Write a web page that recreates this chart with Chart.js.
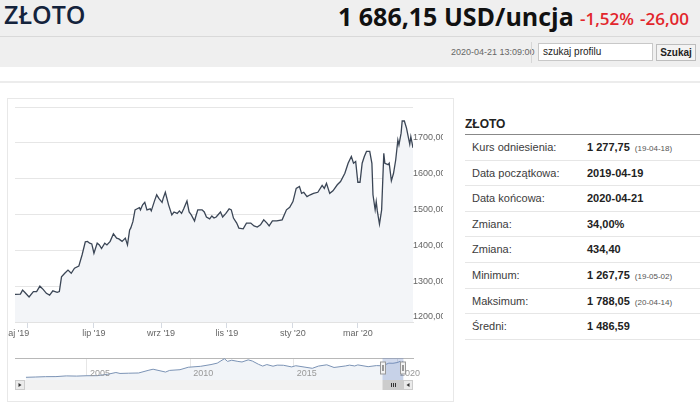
<!DOCTYPE html>
<html>
<head>
<meta charset="utf-8">
<script src="https://cdn.jsdelivr.net/npm/chart.js@4.4.1/dist/chart.umd.min.js"></script>
<style>
  body { margin: 0; width: 700px; height: 403px; overflow: hidden; background: #fff; position: relative; font-family: "Liberation Sans", Arial, sans-serif; }
  .abs { position: absolute; white-space: nowrap; }
  #head { left: 0; top: 0; width: 700px; height: 67px; background: #efefef; }
  #headLine { left: 0; top: 36px; width: 700px; height: 1px; background: #d9d9d9; }
  #band { left: 0; top: 81px; width: 700px; height: 2px; background: #ececec; }
  #title { left: 4px; top: -3px; font: 600 25px "Open Sans", sans-serif; color: #14233c; }
  #price { left: 338px; top: -1px; font: 700 25px "Open Sans", sans-serif; color: #111; }
  .red { font: 600 17px "Open Sans", sans-serif; color: #e2262c; top: 7px; }
  #stamp { left: 451px; top: 46px; font: 9px "Liberation Sans Narrow", "Liberation Sans", sans-serif; color: #666; line-height: 12px; }
  #vsep { left: 531px; top: 42px; width: 1px; height: 21px; background: #d6d6d6; }
  #search { left: 538px; top: 43px; width: 113px; height: 16px; background: #fff; border: 1px solid #c8c8c8; font: 10px "Liberation Sans Narrow", "Liberation Sans", sans-serif; color: #222; line-height: 16px; padding-left: 4px; box-sizing: border-box; width: 115px; height: 18px; }
  #btn { left: 656px; top: 44px; width: 40px; height: 17px; background: #f3f3f3; border: 1px solid #bdbdbd; box-sizing: border-box; font: 700 10px "Liberation Sans Narrow", "Liberation Sans", sans-serif; color: #222; text-align: center; line-height: 15px; }
  #box { left: 7px; top: 98px; width: 445px; height: 302px; border: 1px solid #e8e8e8; overflow: hidden; }
  #mainWrap { left: -20px; top: 0; width: 466px; height: 250px; }
  #navWrap { left: 7px; top: 258px; width: 410px; height: 34px; }
  #tbl { left: 465px; top: 113px; width: 235px; }
  #tblTitle { font: 700 12px "Liberation Sans", Arial, sans-serif; color: #222; height: 21px; line-height: 22px; border-bottom: 1px solid #888; }
  .row { position: relative; height: 24.6px; border-bottom: 1px solid #e6e6e6; font-size: 11px; line-height: 25px; color: #3c3c3c; }
  .row .lab { position: absolute; left: 7px; }
  .row .val { position: absolute; left: 122px; font-weight: 700; color: #222; }
  .row .val small { font-weight: 400; font-size: 8px; color: #555; margin-left: 5px; }
</style>
</head>
<body>
<div id="head" class="abs"></div>
<div id="headLine" class="abs"></div>
<div id="title" class="abs">ZŁOTO</div>
<div id="price" class="abs">1 686,15 USD/uncja</div>
<div class="abs red" style="left:580px">-1,52%</div>
<div class="abs red" style="left:640px">-26,00</div>
<div id="stamp" class="abs">2020-04-21 13:09:00</div>
<div id="vsep" class="abs"></div>
<div id="search" class="abs">szukaj profilu</div>
<div id="btn" class="abs">Szukaj</div>
<div id="band" class="abs"></div>

<div id="box" class="abs">
  <div id="mainWrap" class="abs"><canvas id="mainChart" width="466" height="250"></canvas></div>
  <div id="navWrap" class="abs"><canvas id="navChart" width="410" height="34"></canvas></div>
</div>

<div id="tbl" class="abs">
  <div id="tblTitle">ZŁOTO</div>
  <div id="rows"></div>
</div>

<script>
// main series: day offset from 2019-04-19 and price in USD/oz
const days = [0, 5, 7, 9, 13, 17, 20, 23, 26, 29, 32, 35, 39, 41, 43, 46, 49, 52, 55, 59,
  62, 65, 67, 69, 71, 73, 76, 78, 80, 83, 85, 88, 91, 94, 96, 99, 102, 104, 106, 107,
  109, 111, 113, 115, 116, 118, 120, 122, 125, 126, 129, 131, 133, 136, 137, 139, 142, 145, 147, 150,
  152, 154, 156, 159, 161, 163, 166, 167, 169, 173, 175, 177, 180, 182, 184, 186, 190, 192, 195, 198,
  200, 202, 205, 207, 211, 214, 218, 221, 224, 227, 230, 233, 235, 238, 242, 247, 251, 254, 257, 260,
  263, 265, 267, 270, 273, 276, 280, 284, 286, 288, 291, 294, 298, 301, 305, 308, 311, 313, 315, 317,
  319, 321, 323, 325, 328, 330, 331, 333, 334, 335, 337, 339, 341, 342, 345, 346, 348, 350, 352, 354,
  355, 357, 358, 360, 362, 365, 366, 368];
const prices = [1277, 1278, 1289, 1283, 1270, 1285, 1285, 1300, 1291, 1280, 1275, 1287, 1283, 1285, 1326, 1336, 1345, 1336, 1350, 1356,
  1387, 1424, 1425, 1420, 1418, 1392, 1420, 1415, 1405, 1420, 1415, 1425, 1446, 1434, 1432, 1425, 1434, 1415, 1457, 1462,
  1480, 1513, 1516, 1519, 1513, 1527, 1534, 1513, 1516, 1510, 1538, 1555, 1545, 1534, 1545, 1562, 1527, 1499, 1507, 1503,
  1510, 1503, 1516, 1538, 1507, 1499, 1482, 1493, 1513, 1513, 1507, 1493, 1488, 1496, 1490, 1493, 1507, 1493, 1503, 1516,
  1513, 1490, 1476, 1462, 1460, 1476, 1476, 1468, 1465, 1471, 1485, 1476, 1468, 1482, 1482, 1485, 1513, 1520, 1536, 1573,
  1578, 1559, 1562, 1550, 1555, 1559, 1562, 1581, 1573, 1587, 1559, 1566, 1583, 1592, 1615, 1643, 1662, 1643, 1648, 1590,
  1590, 1643, 1662, 1676, 1676, 1643, 1555, 1513, 1536, 1510, 1473, 1513, 1671, 1643, 1639, 1643, 1594, 1615, 1652, 1708,
  1694, 1727, 1761, 1761, 1741, 1696, 1717, 1686];

const monthTicks = [12, 73, 135, 196, 257, 317];          // 1st of month, day offsets
const labelDays = [0, 73, 135, 196, 257, 317];
const monthLabels = ["maj '19", "lip '19", "wrz '19", "lis '19", "sty '20", "mar '20"];
const priceTicks = [1200, 1300, 1400, 1500, 1600, 1700, 1800];

// navigator series: fractional year and price
const navYears = [2002.05, 2002.5, 2003, 2003.5, 2004, 2004.5, 2005, 2005.5, 2006, 2006.4, 2006.6, 2007, 2007.5, 2008, 2008.2,
  2008.8, 2009, 2009.5, 2009.9, 2010.5, 2011, 2011.3, 2011.65, 2011.8, 2012, 2012.3, 2012.5, 2012.8, 2013, 2013.3,
  2013.5, 2013.7, 2014, 2014.2, 2014.5, 2014.9, 2015.1, 2015.5, 2015.9, 2016.2, 2016.6, 2016.95, 2017.5, 2017.7, 2017.95,
  2018.1, 2018.6, 2019, 2019.3, 2019.6, 2019.8, 2020, 2020.15, 2020.2, 2020.3];
const navPrices = [290, 315, 345, 350, 410, 395, 425, 430, 550, 700, 620, 640, 660, 900, 980,
  740, 880, 940, 1150, 1230, 1380, 1500, 1880, 1650, 1750, 1650, 1600, 1780, 1680, 1400,
  1250, 1380, 1240, 1330, 1320, 1180, 1280, 1170, 1060, 1250, 1360, 1130, 1260, 1330, 1260,
  1350, 1200, 1290, 1275, 1500, 1490, 1550, 1650, 1480, 1690];
const navYearTicks = [2005, 2010, 2015, 2020];
const selRange = [2019.296, 2020.304];

const stats = [
  ['Kurs odniesienia:', '1 277,75', '(19-04-18)'],
  ['Data początkowa:', '2019-04-19', ''],
  ['Data końcowa:', '2020-04-21', ''],
  ['Zmiana:', '34,00%', ''],
  ['Zmiana:', '434,40', ''],
  ['Minimum:', '1 267,75', '(19-05-02)'],
  ['Maksimum:', '1 788,05', '(20-04-14)'],
  ['Średni:', '1 486,59', '']
];

const rowsEl = document.getElementById('rows');
stats.forEach(s => {
  const r = document.createElement('div');
  r.className = 'row';
  r.innerHTML = '<span class="lab">' + s[0] + '</span><span class="val">' + s[1] +
    (s[2] ? '<small>' + s[2] + '</small>' : '') + '</span>';
  rowsEl.appendChild(r);
});

Chart.defaults.font.family = '"Liberation Sans", Arial, sans-serif';
Chart.defaults.font.size = 9;
Chart.defaults.color = '#666';

const mainPoints = days.map((d, i) => ({ x: d, y: prices[i] }));

new Chart(document.getElementById('mainChart'), {
  type: 'line',
  data: {
    datasets: [{
      data: mainPoints,
      borderColor: '#3b4656',
      borderWidth: 1.3,
      pointRadius: 0,
      tension: 0,
      fill: 'start',
      backgroundColor: '#f3f5f8'
    }]
  },
  options: {
    responsive: false,
    animation: false,
    devicePixelRatio: 1,
    layout: { padding: { left: 27, right: 11, top: 8, bottom: 7 } },
    plugins: { legend: { display: false }, tooltip: { enabled: false } },
    scales: {
      x: {
        type: 'linear', min: 0, max: 368, weight: 0,
        afterBuildTicks: a => { a.ticks = monthTicks.map(v => ({ value: v })); },
        afterFit: a => { a.height = 6; },
        ticks: { display: false },
        grid: { drawOnChartArea: false, drawTicks: true, tickLength: 6, tickColor: '#d5dae2' },
        border: { color: '#e2e2e2' }
      },
      x2: {
        type: 'linear', position: 'bottom', min: 0, max: 368, weight: 1,
        afterBuildTicks: a => { a.ticks = labelDays.map(v => ({ value: v })); },
        afterFit: a => { a.height = 14; },
        ticks: {
          autoSkip: false, maxRotation: 0, padding: 0, color: '#666',
          callback: (v, i) => monthLabels[i]
        },
        grid: { display: false, drawTicks: false },
        border: { display: false }
      },
      y: {
        position: 'right', min: 1200, max: 1800,
        afterBuildTicks: a => { a.ticks = priceTicks.map(v => ({ value: v })); },
        afterFit: a => { a.width = 30; },
        ticks: {
          padding: 0, labelOffset: -5, color: '#666',
          callback: v => v === 1800 ? '' : v.toFixed(2).replace('.', ',')
        },
        grid: { color: '#e6e6e6', drawTicks: false },
        border: { display: false }
      }
    }
  }
});

// navigator extras: year labels, selected range and scrollbar
const navigatorExtras = {
  id: 'navigatorExtras',
  afterDatasetsDraw(chart) {
    const { ctx, chartArea: a, scales: { x } } = chart;
    ctx.save();
    ctx.font = '9px "Liberation Sans", Arial, sans-serif';
    ctx.fillStyle = '#999';
    ctx.textBaseline = 'middle';
    x.ticks.forEach(t => ctx.fillText(String(t.value), x.getPixelForValue(t.value) + 3, a.bottom - 6));

    const s0 = x.getPixelForValue(selRange[0]);
    const s1 = x.getPixelForValue(selRange[1]);
    ctx.fillStyle = 'rgba(102,133,194,0.3)';
    ctx.fillRect(s0, a.top, s1 - s0, a.bottom - a.top);

    // scrollbar
    const sy = a.bottom, sh = 10;
    ctx.fillStyle = '#f2f2f2';
    ctx.fillRect(a.left, sy, a.right - a.left, sh);
    ctx.fillStyle = '#cccccc';
    ctx.fillRect(s0, sy, s1 - s0, sh);
    ctx.strokeStyle = '#333';
    ctx.lineWidth = 1;
    const mid = Math.round((s0 + s1) / 2);
    for (let k = -2; k <= 2; k += 2) {
      ctx.beginPath();
      ctx.moveTo(mid + k + 0.5, sy + 3);
      ctx.lineTo(mid + k + 0.5, sy + 7);
      ctx.stroke();
    }
    [[a.left, -1], [a.right - 10, 1]].forEach(([bx, dir]) => {
      ctx.fillStyle = '#ebebeb';
      ctx.fillRect(bx, sy, 10, sh);
      ctx.strokeStyle = '#cccccc';
      ctx.strokeRect(bx + 0.5, sy + 0.5, 9, sh - 1);
      ctx.fillStyle = '#333';
      ctx.beginPath();
      const cx = bx + 5, cy = sy + 5;
      ctx.moveTo(cx - dir * 1.5, cy);
      ctx.lineTo(cx + dir * 1.5, cy - 2);
      ctx.lineTo(cx + dir * 1.5, cy + 2);
      ctx.closePath();
      ctx.fill();
    });

    // handles
    [s0, s1].forEach(hx => {
      const hxr = Math.round(hx) - 2.5;
      ctx.fillStyle = '#f2f2f2';
      ctx.fillRect(hxr, a.top + 4, 5, 12);
      ctx.strokeStyle = '#999';
      ctx.strokeRect(hxr, a.top + 4, 5, 12);
      ctx.beginPath();
      ctx.moveTo(hxr + 2, a.top + 7); ctx.lineTo(hxr + 2, a.top + 13);
      ctx.moveTo(hxr + 3, a.top + 7); ctx.lineTo(hxr + 3, a.top + 13);
      ctx.stroke();
    });
    ctx.restore();
  }
};

new Chart(document.getElementById('navChart'), {
  type: 'line',
  data: {
    datasets: [{
      data: navYears.map((yv, i) => ({ x: yv, y: navPrices[i] })),
      borderColor: '#7b93b5',
      borderWidth: 1,
      pointRadius: 0,
      tension: 0,
      fill: 'start',
      backgroundColor: '#f1f4f8'
    }]
  },
  options: {
    responsive: false,
    animation: false,
    devicePixelRatio: 1,
    layout: { padding: { left: 0, right: 12, top: 1, bottom: 11 } },
    plugins: { legend: { display: false }, tooltip: { enabled: false } },
    scales: {
      x: {
        type: 'linear', position: 'top', min: 2001.52, max: 2020.77,
        afterBuildTicks: a => { a.ticks = navYearTicks.map(v => ({ value: v })); },
        afterFit: a => { a.height = 0; },
        ticks: { display: false },
        grid: { color: '#e6e6e6', drawTicks: false },
        border: { color: '#b8b8b8' }
      },
      y: { display: false, min: 60, max: 1940 }
    }
  },
  plugins: [navigatorExtras]
});
</script>
</body>
</html>
